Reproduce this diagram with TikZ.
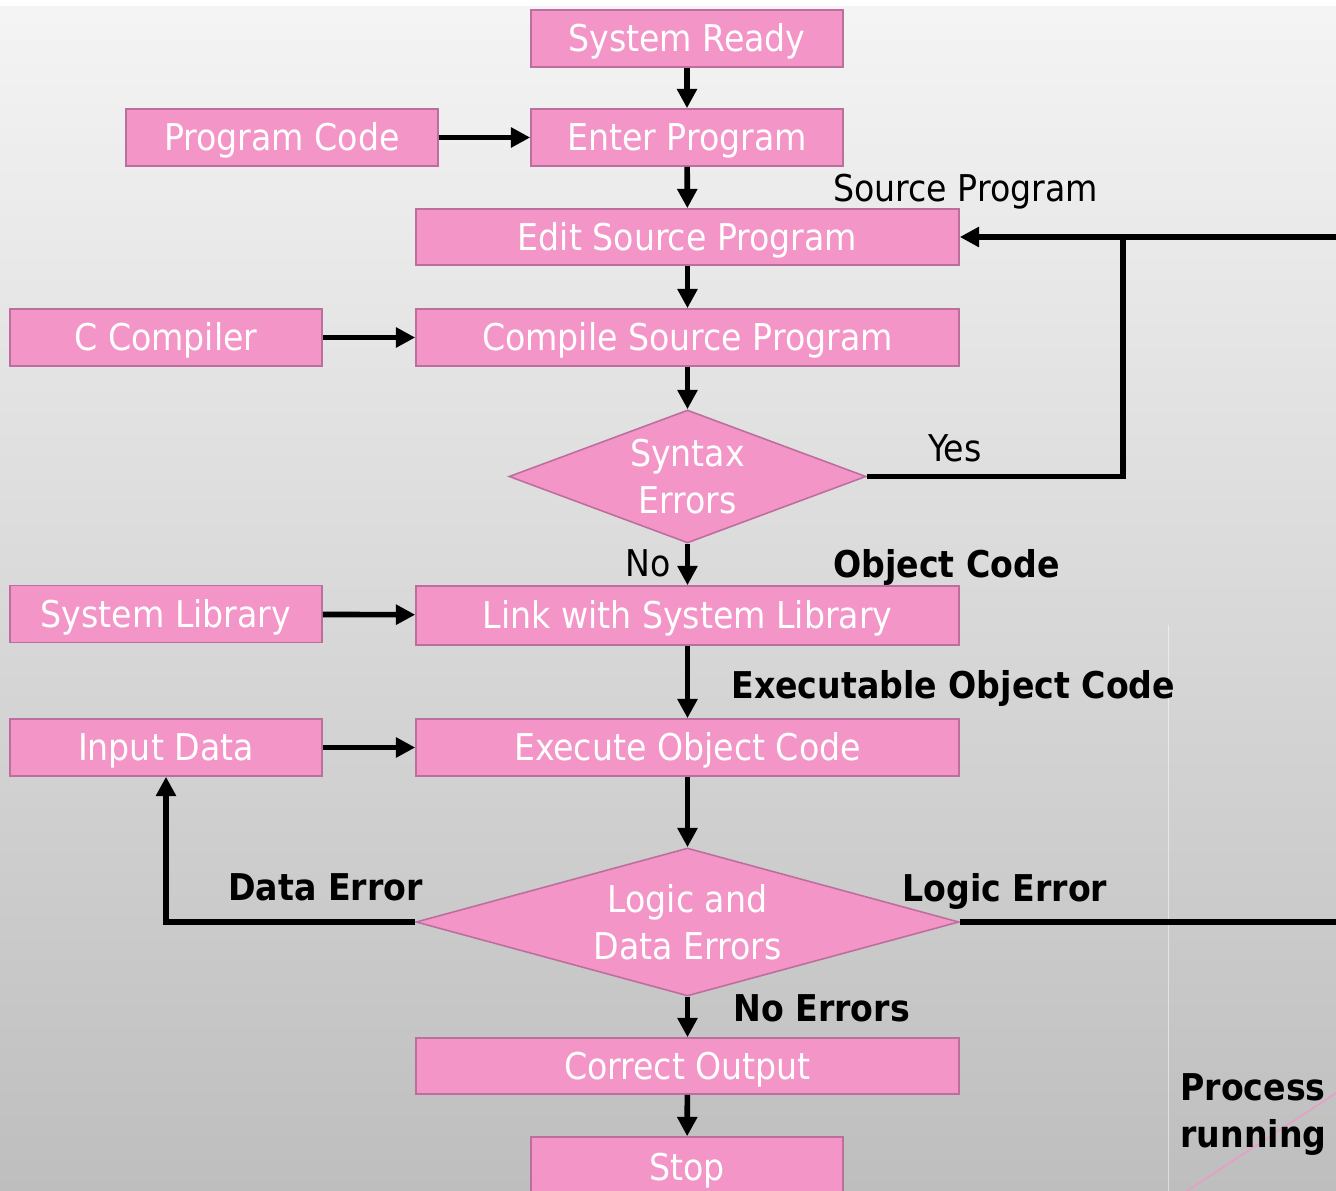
\documentclass[tikz,border=0pt]{standalone}
\usepackage{fontspec}
\setmainfont{DejaVu Sans Condensed}
\usepackage{tikz}
\usetikzlibrary{positioning}
\usetikzlibrary{shapes.geometric}
\usetikzlibrary{arrows.meta}

\definecolor{boxpink}{HTML}{F495C8}
\definecolor{boxedge}{HTML}{BC6F9C}
\definecolor{bgtop}{HTML}{F4F4F4}
\definecolor{bgbottom}{HTML}{BEBEBE}

\begin{document}
\begin{tikzpicture}[
    font=\fontsize{21}{26.6}\selectfont,
    process/.style={rectangle,draw=boxedge,line width=0.9pt,fill=boxpink,text=white,minimum width=6.24cm,minimum height=1.14cm,inner sep=0pt,text height=15.3pt,text depth=0pt},
    wide/.style={process,minimum width=10.86cm},
    decision/.style={diamond,draw=boxedge,line width=0.9pt,fill=boxpink,text=white,align=center,inner sep=-3pt},
    arrow/.style={-{Triangle[length=11pt,width=11pt]},line width=3.2pt},
    line/.style={line width=3.2pt},
    tag/.style={anchor=base west,inner sep=0pt},
    boldtag/.style={tag,font=\fontsize{21}{26.6}\selectfont\bfseries}
]
\useasboundingbox (0,0) rectangle (26.72,-23.82);
\clip (0,0) rectangle (26.72,-23.82);

% background
\fill[white] (0,0) rectangle (26.72,-0.14);
\shade[top color=bgtop,bottom color=bgbottom] (0,-0.14) rectangle (26.72,-23.82);
\draw[white,opacity=0.5,line width=0.5pt] (23.36,-12.5) -- (23.36,-23.82);
\draw[boxpink,line width=0.7pt] (23.74,-23.82) -- (26.72,-21.86);

\node[process] (ready) at (13.74,-0.77) {System Ready};
\node[process] (code) at (5.64,-2.75) {Program Code};
\node[process] (enter) at (13.74,-2.75) {Enter Program};
\node[wide,minimum height=1.12cm] (edit) at (13.75,-4.74) {Edit Source Program};
\node[process] (compiler) at (3.32,-6.75) {C Compiler};
\node[wide] (compile) at (13.75,-6.75) {Compile Source Program};
\node[decision,aspect=2.68,minimum width=7.14cm,minimum height=2.66cm] (syntax) at (13.75,-9.53) {Syntax\\Errors};
\node[process] (library) at (3.32,-12.28) {System Library};
\node[wide,minimum height=1.18cm] (link) at (13.75,-12.31) {Link with System Library};
\node[process] (input) at (3.32,-14.95) {Input Data};
\node[wide] (execute) at (13.75,-14.95) {Execute Object Code};
\node[decision,aspect=3.67,minimum width=10.86cm,minimum height=2.96cm] (logic) at (13.75,-18.44) {Logic and\\Data Errors};
\node[wide,minimum height=1.12cm] (output) at (13.75,-21.32) {Correct Output};
\node[process,minimum height=1.2cm] (stop) at (13.74,-23.34) {Stop};

\coordinate (join) at (22.46,-4.74);
\coordinate (loopback) at (28,-4.74);

\node[tag] (srclabel) at (16.66,-4.04) {Source Program};
\node[tag] (yes) at (18.56,-9.24) {Yes};
\node[tag,anchor=base east] (no) at (13.42,-11.54) {No};
\node[boldtag] (objlabel) at (16.66,-11.56) {Object Code};
\node[boldtag] (exelabel) at (14.62,-13.96) {Executable Object Code};
\node[boldtag] (dataerr) at (4.56,-18.0) {Data Error};
\node[boldtag] (logicerr) at (18.04,-18.02) {Logic Error};
\node[boldtag] (noerr) at (14.66,-20.42) {No Errors};
\node[boldtag,align=left] (caption) at (23.6,-22.94) {Process of\\running a};

\draw[arrow] (ready) -- (enter);
\draw[arrow] (code) -- (enter);
\draw[arrow] (enter) -- (edit);
\draw[arrow] (edit) -- (compile);
\draw[arrow] (compiler) -- (compile);
\draw[arrow] (compile) -- (syntax);
\draw[arrow] (syntax.east) -| (join) -- (edit.east);
\draw[arrow] (syntax) -- (link);
\draw[arrow] (library) -- (link);
\draw[arrow] (link) -- (execute);
\draw[arrow] (input) -- (execute);
\draw[arrow] (execute) -- (logic);
\draw[arrow] (logic.west) -| (input.south);
\draw[line] (logic.east) -| (loopback) -- (join);
\draw[arrow] (logic) -- (output);
\draw[arrow] (output) -- (stop);
\end{tikzpicture}
\end{document}
